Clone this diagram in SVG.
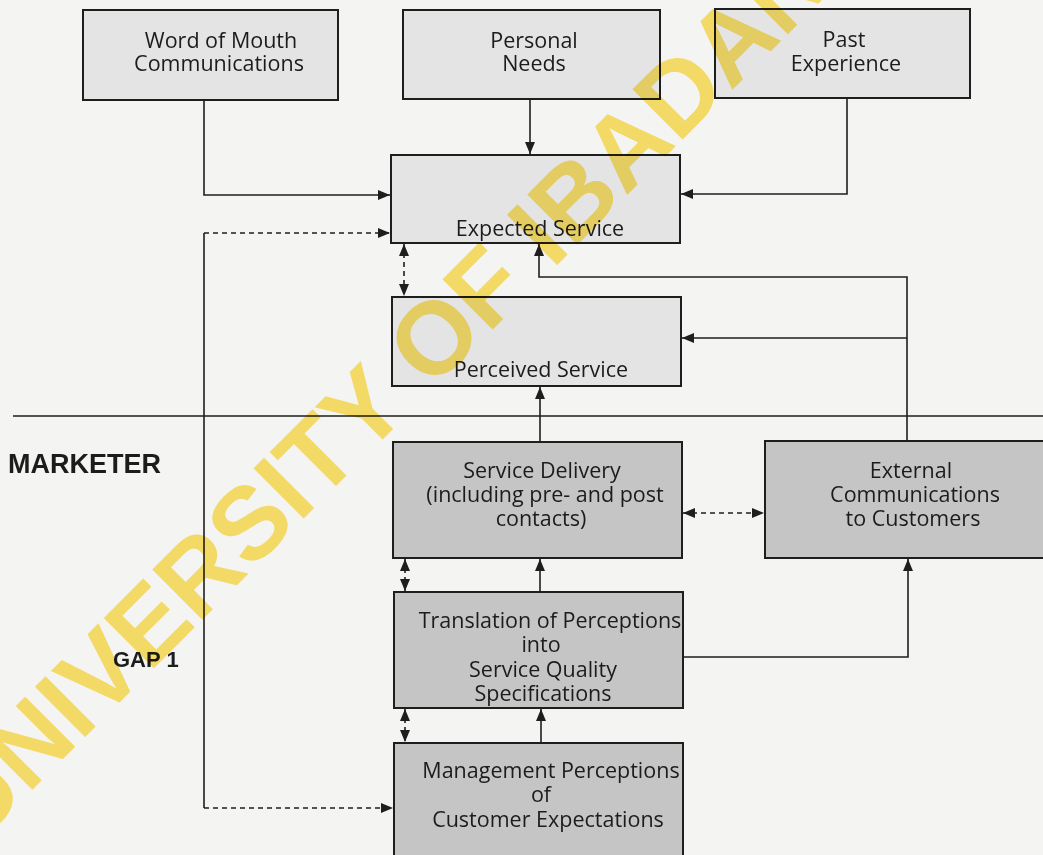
<svg xmlns="http://www.w3.org/2000/svg" width="1043" height="855" viewBox="0 0 1043 855">
<style>
.bg{fill:#f4f4f3}
.light{fill:#e4e4e4;stroke:#1e1e1e;stroke-width:2}
.dark{fill:#c5c5c5;stroke:#1e1e1e;stroke-width:2}
.t{font-family:"Open Sans","Noto Sans",sans-serif;font-size:21.5px;fill:#1c1c1c;text-anchor:middle}
.lbl{font-family:"Liberation Sans",Arial,sans-serif;font-weight:bold;fill:#1c1c1c}
.ln{fill:none;stroke:#1e1e1e;stroke-width:1.6}
.dash{stroke-dasharray:5 4}
.wm{font-family:"Liberation Sans",Arial,sans-serif;font-weight:bold;font-size:103px;fill:#fee46c;mix-blend-mode:multiply}
</style>
<defs>
<marker id="ah" viewBox="0 0 10 10" refX="10" refY="5" markerWidth="7" markerHeight="7" markerUnits="userSpaceOnUse" orient="auto-start-reverse">
<path d="M0,0 L10,5 L0,10 z" fill="#1e1e1e"/>
</marker>
<marker id="ah2" viewBox="0 0 10 10" refX="10" refY="5" markerWidth="12" markerHeight="10" markerUnits="userSpaceOnUse" orient="auto-start-reverse" preserveAspectRatio="none">
<path d="M0,0 L10,5 L0,10 z" fill="#1e1e1e"/>
</marker>
</defs>
<rect class="bg" x="0" y="0" width="1043" height="855"/>

<g id="connectors">
<path class="ln" d="M13,416 H1043"/>
<path class="ln" d="M204,100 V195 H390" marker-end="url(#ah2)"/>
<path class="ln" d="M530,99 V154" marker-end="url(#ah2)"/>
<path class="ln" d="M847,98 V194 H681" marker-end="url(#ah2)"/>
<path class="ln" d="M204,233 V808"/>
<path class="ln dash" d="M204,233 H390" marker-end="url(#ah2)"/>
<path class="ln dash" d="M204,808 H393" marker-end="url(#ah2)"/>
<path class="ln dash" d="M404,244 V296" marker-start="url(#ah2)" marker-end="url(#ah2)"/>
<path class="ln" d="M907,441 V277 H539 V244" marker-end="url(#ah2)"/>
<path class="ln" d="M907,338 H682" marker-end="url(#ah2)"/>
<path class="ln" d="M540,442 V387" marker-end="url(#ah2)"/>
<path class="ln dash" d="M683,513 H764" marker-start="url(#ah2)" marker-end="url(#ah2)"/>
<path class="ln dash" d="M405,559 V591" marker-start="url(#ah2)" marker-end="url(#ah2)"/>
<path class="ln" d="M540,592 V559" marker-end="url(#ah2)"/>
<path class="ln dash" d="M405,709 V742" marker-start="url(#ah2)" marker-end="url(#ah2)"/>
<path class="ln" d="M541,743 V709" marker-end="url(#ah2)"/>
<path class="ln" d="M683,657 H908 V559" marker-end="url(#ah2)"/>
</g>

<g id="word-of-mouth">
<rect class="light" x="83" y="10" width="255" height="90"/>
<text class="t" x="221" y="48">Word of Mouth</text>
<text class="t" x="219" y="71">Communications</text>
</g>
<g id="personal-needs">
<rect class="light" x="403" y="10" width="257" height="89"/>
<text class="t" x="534" y="48">Personal</text>
<text class="t" x="534" y="71">Needs</text>
</g>
<g id="past-experience">
<rect class="light" x="715" y="9" width="255" height="89"/>
<text class="t" x="844" y="47">Past</text>
<text class="t" x="846" y="71">Experience</text>
</g>
<g id="expected-service">
<rect class="light" x="391" y="155" width="289" height="88"/>
<text class="t" x="540" y="236">Expected Service</text>
</g>
<g id="perceived-service">
<rect class="light" x="392" y="297" width="289" height="89"/>
<text class="t" x="541" y="377">Perceived Service</text>
</g>
<g id="service-delivery">
<rect class="dark" x="393" y="442" width="289" height="116"/>
<text class="t" x="542" y="478">Service Delivery</text>
<text class="t" x="545" y="502">(including pre- and post</text>
<text class="t" x="541" y="526">contacts)</text>
</g>
<g id="external-communications">
<rect class="dark" x="765" y="441" width="290" height="117"/>
<text class="t" x="911" y="478">External</text>
<text class="t" x="915" y="502">Communications</text>
<text class="t" x="913" y="526">to Customers</text>
</g>
<g id="translation">
<rect class="dark" x="394" y="592" width="289" height="116"/>
<text class="t" x="550" y="628">Translation of Perceptions</text>
<text class="t" x="541" y="652">into</text>
<text class="t" x="543" y="677">Service Quality</text>
<text class="t" x="543" y="701">Specifications</text>
</g>
<g id="management-perceptions">
<rect class="dark" x="394" y="743" width="289" height="130"/>
<text class="t" x="551" y="778">Management Perceptions</text>
<text class="t" x="541" y="802">of</text>
<text class="t" x="548" y="827">Customer Expectations</text>
</g>

<text class="lbl" x="8" y="473" font-size="27">MARKETER</text>
<text class="lbl" x="113" y="667" font-size="22" fill="#333">GAP 1</text>

<text class="wm" transform="translate(-25,847) rotate(-45)">UNIVERSITY OF IBADAN</text>
</svg>
